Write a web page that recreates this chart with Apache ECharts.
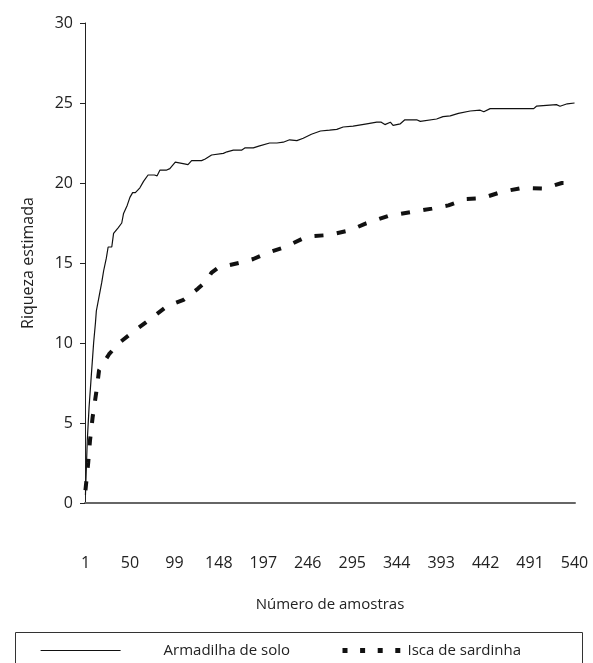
<!DOCTYPE html>
<html><head><meta charset="utf-8">
<script src="https://cdn.jsdelivr.net/npm/echarts@6/dist/echarts.min.js"></script>
<style>html,body{margin:0;padding:0;background:#fff}#c{width:593px;height:663px}</style>
</head><body><div id="c"></div>
<script>
// ---- data ----
const sampleCount = 540;
const xTickLabels = ['1','50','99','148','197','246','295','344','393','442','491','540'];
const yTicks = [0, 5, 10, 15, 20, 25, 30];
const seriesNames = ['Armadilha de solo', 'Isca de sardinha'];

const armSamples = [1,3,5,7,10,12,13,16,19,21,24,26,30,32,37,41,43,47,50,53,56,61,65,70,77,80,83,90,94,100,110,114,118,129,133,140,153,157,164,173,177,186,192,204,212,219,226,234,241,250,260,270,278,285,296,311,322,327,331,337,340,348,353,366,370,388,395,403,412,425,436,440,447,470,495,498,520,524,532,540];
const armValues  = [0.5,3.9,6.0,7.6,10.0,11.25,12.0,12.9,13.8,14.5,15.3,16.0,16.0,16.85,17.2,17.5,18.1,18.6,19.1,19.4,19.4,19.7,20.1,20.5,20.5,20.45,20.8,20.8,20.9,21.3,21.2,21.15,21.4,21.4,21.5,21.75,21.85,21.95,22.05,22.05,22.2,22.2,22.3,22.5,22.5,22.55,22.7,22.65,22.8,23.05,23.25,23.3,23.35,23.5,23.55,23.7,23.8,23.8,23.65,23.8,23.6,23.7,23.95,23.95,23.85,24.0,24.15,24.2,24.35,24.5,24.55,24.45,24.65,24.65,24.65,24.8,24.9,24.8,24.95,25.0];

const iscaSamples = [1,4,6,9,13,16,27,38,56,76,91,109,125,133,140,147,170,186,200,221,245,269,293,309,335,361,383,401,421,438,460,483,506,526,540];
const iscaValues  = [0.8,2.5,3.9,5.4,6.95,8.3,9.3,10.0,10.8,11.65,12.3,12.7,13.4,13.8,14.4,14.7,15.0,15.25,15.6,16.0,16.65,16.75,17.05,17.45,17.95,18.2,18.4,18.6,19.0,19.05,19.45,19.7,19.65,20.0,20.0];

// ---- build ----
const categories = [];
for (let i = 1; i <= sampleCount; i++) categories.push(String(i));
const armData = armSamples.map((s, k) => [s - 1, armValues[k]]);
const iscaData = iscaSamples.map((s, k) => [s - 1, iscaValues[k]]);

const FONT = 'Open Sans';
const TXT = '#222';
const hiddenSymbol = {color: 'rgba(0,0,0,0)', borderColor: 'rgba(0,0,0,0)', borderWidth: 0, opacity: 0};
const chart = echarts.init(document.getElementById('c'), null, {renderer: 'canvas'});
chart.setOption({
  animation: false,
  backgroundColor: '#fff',
  grid: {left: 85, right: 18, top: 23, bottom: 160, containLabel: false},
  xAxis: {
    type: 'category',
    data: categories,
    boundaryGap: true,
    name: 'Número de amostras',
    nameLocation: 'middle',
    nameGap: 94,
    nameTextStyle: {fontFamily: FONT, fontSize: 15, color: TXT},
    axisLine: {lineStyle: {color: '#666', width: 2}},
    axisTick: {show: false},
    axisLabel: {
      interval: (idx, val) => xTickLabels.indexOf(val) >= 0,
      margin: 52, fontFamily: FONT, fontSize: 16, color: TXT
    },
    splitLine: {show: false}
  },
  yAxis: {
    type: 'value',
    min: yTicks[0], max: yTicks[yTicks.length - 1], interval: 5,
    name: 'Riqueza estimada',
    nameLocation: 'middle',
    nameGap: 49,
    nameTextStyle: {fontFamily: FONT, fontSize: 16, color: TXT},
    axisLine: {show: true, lineStyle: {color: '#222', width: 1}},
    axisTick: {show: true, length: 5, lineStyle: {color: '#222'}},
    axisLabel: {margin: 12, fontFamily: FONT, fontSize: 16, color: TXT},
    splitLine: {show: false}
  },
  legend: [
    {
      data: [seriesNames[0]], left: 40, top: 643, padding: 0, itemWidth: 80, itemHeight: 14,
      textStyle: {fontFamily: FONT, fontSize: 15, color: TXT, padding: [0, 0, 0, 38]},
      lineStyle: {width: 1.2, color: '#111'},
      itemStyle: hiddenSymbol
    },
    {
      data: [seriesNames[1]], left: 340, top: 643, padding: 0, itemWidth: 58, itemHeight: 14,
      textStyle: {fontFamily: FONT, fontSize: 15, color: TXT, padding: [0, 0, 0, 2]},
      lineStyle: {width: 5, color: '#111', type: [5, 12.6]},
      itemStyle: hiddenSymbol
    }
  ],
  graphic: [{
    type: 'rect', silent: true,
    shape: {x: 15.5, y: 632.5, width: 567, height: 60},
    style: {fill: 'none', stroke: '#333', lineWidth: 1}
  }],
  series: [
    {
      name: seriesNames[0], type: 'line', data: armData, symbol: 'none', smooth: false,
      lineStyle: {color: '#111', width: 1.2}, itemStyle: {color: '#111'}
    },
    {
      name: seriesNames[1], type: 'line', data: iscaData, symbol: 'none', smooth: false,
      lineStyle: {color: '#111', width: 4, type: [9, 13.5]}, itemStyle: {color: '#111'}
    }
  ]
});
</script>
</body></html>
